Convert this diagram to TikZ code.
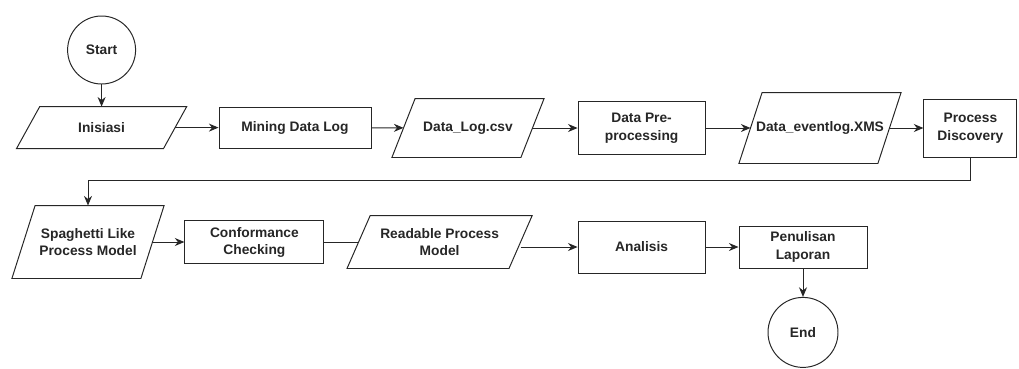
\documentclass[tikz,border=0pt]{standalone}
\usepackage{fontspec}
\setmainfont{Liberation Sans}
\usetikzlibrary{arrows.meta, positioning}

\begin{document}
\begin{tikzpicture}[
      base/.style={draw=black!85, line width=0.7pt, align=center, inner sep=1pt,
                   font=\fontsize{9.8pt}{12.4pt}\selectfont\bfseries, text=black!85},
      termbox/.style={base, circle, minimum size=1.7cm},
      procbox/.style={base, rectangle, minimum width=3.175cm, minimum height=1.3cm},
      iobox/.style={base, draw=none, rectangle,
                    append after command={\pgfextra{\draw[black!85, line width=0.7pt]
                      ([xshift=0.29cm]\tikzlastnode.north west) -- ([xshift=0.29cm]\tikzlastnode.north east)
                      -- ([xshift=-0.29cm]\tikzlastnode.south east) -- ([xshift=-0.29cm]\tikzlastnode.south west)
                      -- cycle;}}},
      link/.style={-{Stealth[length=2.4mm, width=2mm]}, line width=0.7pt, black!85}
    ]
      \useasboundingbox (0,0) rectangle (25.475,-9.2);

      \node[termbox] (start) at (2.54,-1.25) {Start};
      \node[iobox, minimum width=3.65cm, minimum height=1.025cm] (init) at (2.54,-3.19) {Inisiasi};
      \node[procbox, minimum width=3.8cm, minimum height=1.025cm] (mine) at (7.375,-3.19) {Mining Data Log};
      \node[iobox, minimum width=3.2cm, minimum height=1.45cm] (csv) at (11.7,-3.2) {Data\_Log.csv};
      \node[procbox, minimum height=1.325cm] (prep) at (16.04,-3.2) {Data Pre-\\processing};
      \node[iobox, minimum width=3.45cm, minimum height=1.75cm] (xms) at (20.5,-3.2) {Data\_eventlog.XMS};
      \node[procbox, minimum width=2.325cm, minimum height=1.45cm] (disc) at (24.26,-3.2) {Process\\Discovery};

      \node[iobox, minimum width=3.2cm, minimum height=1.8cm] (spag) at (2.2,-6.05) {Spaghetti Like\\Process Model};
      \node[procbox, minimum width=3.475cm, minimum height=1.075cm] (conf) at (6.36,-6.06) {Conformance\\Checking};
      \node[iobox, minimum width=4.025cm, minimum height=1.3cm] (read) at (10.99,-6.05) {Readable Process\\Model};
      \node[procbox] (anal) at (16.04,-6.175) {Analisis};
      \node[procbox, minimum width=3.2cm, minimum height=1.05cm] (report) at (20.075,-6.175) {Penulisan\\Laporan};
      \node[termbox, minimum size=1.75cm] (end) at (20.075,-8.31) {End};

      \coordinate (loop) at (2.2,-4.5);

      \draw[link] (start) -- (init);
      \draw[link] (init) -- (mine);
      \draw[link] (mine) -- (csv);
      \draw[link] (csv) -- (prep);
      \draw[link] (prep) -- (xms);
      \draw[link] (xms) -- (disc);
      \draw[link] (disc) |- (loop) -- (spag);
      \draw[link] (spag) -- (spag -| conf.west);
      \draw[line width=0.7pt, black!85] (conf.east) -- (conf.east -| read.west);
      \draw[link] (read.east |- anal.west) -- (anal.west);
      \draw[link] (anal) -- (report);
      \draw[link] (report) -- (end);
    \end{tikzpicture}
\end{document}
